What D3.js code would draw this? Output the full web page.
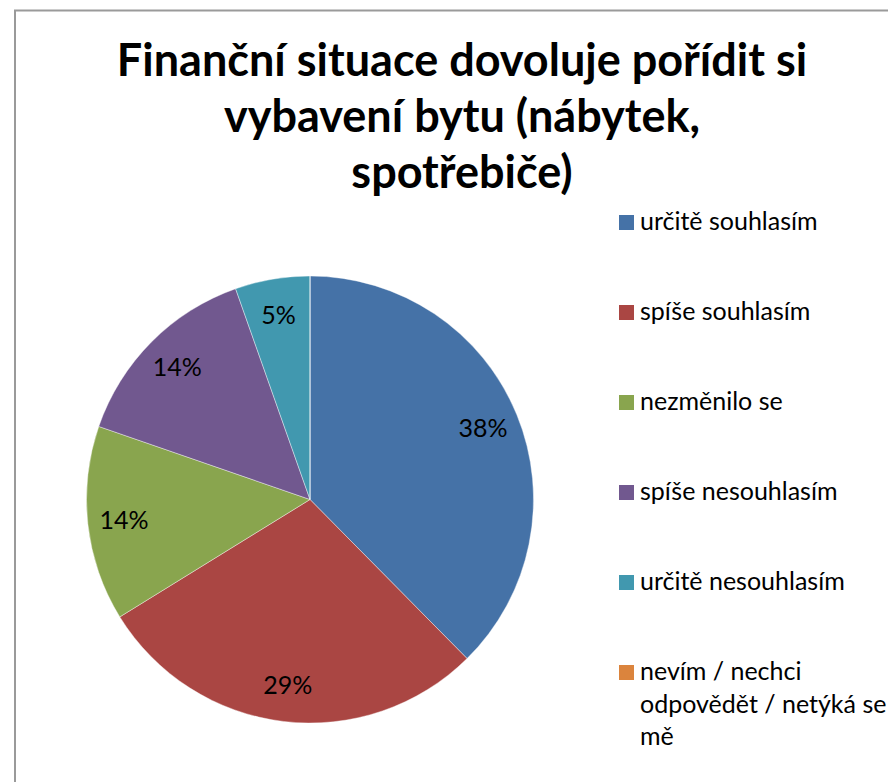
<html>
<head>
<meta charset="utf-8">
<script src="https://d3js.org/d3.v7.min.js"></script>
<style>
    body { margin: 0; background: #fff; }
    text { font-family: Lato, "Open Sans", sans-serif; fill: #000; }
</style>
</head>
<body>
<div class="chart"></div>
<script>
    // shares (percent)
    let categories = ["určitě souhlasím", "spíše souhlasím", "nezměnilo se",
                      "spíše nesouhlasím", "určitě nesouhlasím",
                      "nevím / nechci odpovědět / netýká se mě"];
    let shares = [37.6, 28.6, 14.1, 14.3, 5.4, 0];
    let colors = ["#4572A7", "#AA4643", "#89A54E", "#71588F", "#4198AF", "#DB843D"];
    let titleLines = ["Finanční situace dovoluje pořídit si",
                      "vybavení bytu (nábytek,",
                      "spotřebiče)"];
    // legend labels split the way the original wraps them
    let legendLines = [["určitě souhlasím"], ["spíše souhlasím"], ["nezměnilo se"],
                       ["spíše nesouhlasím"], ["určitě nesouhlasím"],
                       ["nevím / nechci", "odpovědět / netýká se", "mě"]];

    let width = 888, height = 782;
    let cx = 310, cy = 499.5, radius = 223.5;

    let svg = d3.select(".chart").append("svg")
        .attr("width", width)
        .attr("height", height);

    // chart area border
    svg.append("rect")
        .attr("x", 15).attr("y", 10.5)
        .attr("width", width + 20).attr("height", height + 20)
        .attr("fill", "none")
        .attr("stroke", "#9a9a9a")
        .attr("stroke-width", 2);

    // title
    svg.append("g").selectAll("text")
        .data(titleLines)
        .enter().append("text")
        .attr("x", 462)
        .attr("y", (d, i) => 76 + i * 56)
        .attr("text-anchor", "middle")
        .style("font-size", "45px")
        .style("font-weight", "bold")
        .text(d => d);

    let total = d3.sum(shares);
    let pie = d3.pie().sort(null).value(d => d);
    let arcs = pie(shares);
    let arc = d3.arc().innerRadius(0).outerRadius(radius);
    let labelArc = d3.arc().innerRadius(187).outerRadius(187);

    let pieLayer = svg.append("g").attr("transform", `translate(${cx},${cy})`);
    pieLayer.selectAll("path")
        .data(arcs)
        .enter().append("path")
        .attr("d", arc)
        .attr("fill", (d, i) => colors[i])
        .attr("stroke", "#fff")
        .attr("stroke-width", 0.4);

    let fmt = d3.format(".0%");
    pieLayer.selectAll("text")
        .data(arcs.filter(d => d.value > 0))
        .enter().append("text")
        .attr("transform", d => `translate(${labelArc.centroid(d)})`)
        .attr("text-anchor", "middle")
        .attr("dy", "0.35em")
        .style("font-size", "25px")
        .text(d => fmt(d.value / total));

    // legend
    let legend = svg.append("g").attr("transform", "translate(619,0)");
    let rows = legend.selectAll("g")
        .data(legendLines)
        .enter().append("g")
        .attr("transform", (d, i) => `translate(0, ${215 + i * 90})`);
    rows.append("rect")
        .attr("width", 15).attr("height", 15)
        .attr("fill", (d, i) => colors[i]);
    rows.append("text")
        .attr("x", 21)
        .attr("y", 15)
        .style("font-size", "25px")
        .selectAll("tspan")
        .data(d => d)
        .enter().append("tspan")
        .attr("x", 21)
        .attr("dy", (d, i) => i === 0 ? 0 : 32.5)
        .text(d => d);
</script>
</body>
</html>
